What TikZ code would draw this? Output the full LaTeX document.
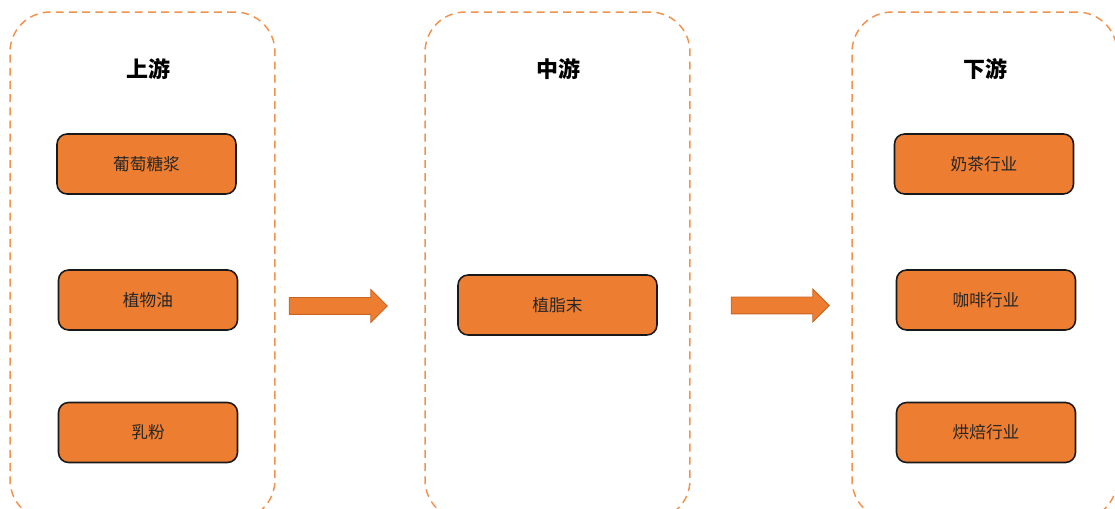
\documentclass[tikz,border=0pt]{standalone}
\usepackage{fontspec}
\setmainfont{Noto Sans CJK SC}
\usetikzlibrary{shapes.arrows}
\definecolor{boxorange}{HTML}{ED7D31}
\definecolor{dashorange}{HTML}{F0934F}
\definecolor{arrowedge}{HTML}{C8641F}

\begin{document}
\begin{tikzpicture}[x=0.02cm,y=-0.02cm,
  stage/.style={draw=dashorange, line width=0.85pt, dash pattern=on 4.5pt off 3pt,
    rounded corners=0.8cm, minimum width=5.3cm, minimum height=10.16cm},
  title/.style={font=\bfseries\fontsize{12.5}{14}\selectfont},
  item/.style={draw=black!90, fill=boxorange, line width=0.9pt, rounded corners=0.2cm,
    minimum width=3.58cm, minimum height=1.2cm, text=black!85,
    font=\fontsize{9.5}{11}\selectfont},
  flow/.style={single arrow, draw=arrowedge, fill=boxorange, line width=0.5pt,
    inner xsep=0pt, inner ysep=0.16cm, minimum height=1.96cm,
    single arrow head extend=0.16cm}]
  \useasboundingbox (0,0) rectangle (1115,509);
  \clip (0,0) rectangle (1115,509);

  % three stages
  \node[stage] (up)   at (142.5,266) {};
  \node[stage] (mid)  at (557.5,266) {};
  \node[stage] (down) at (984.5,266) {};

  \node[title] (upT)   at (148,69) {上游};
  \node[title] (midT)  at (558,69) {中游};
  \node[title] (downT) at (985,69) {下游};

  % upstream
  \node[item] (glucose) at (146.5,164) {葡萄糖浆};
  \node[item] (oil)     at (148,300)   {植物油};
  \node[item] (milk)    at (148,432.5) {乳粉};

  % midstream
  \node[item, minimum width=3.98cm] (creamer) at (557.5,305) {植脂末};

  % downstream
  \node[item] (tea)    at (984,164)   {奶茶行业};
  \node[item] (coffee) at (986,300)   {咖啡行业};
  \node[item] (bake)   at (986,432.5) {烘焙行业};

  \node[flow] (toMid)  at (334,306) {};
  \node[flow] (toDown) at (776,305.5) {};
\end{tikzpicture}
\end{document}
